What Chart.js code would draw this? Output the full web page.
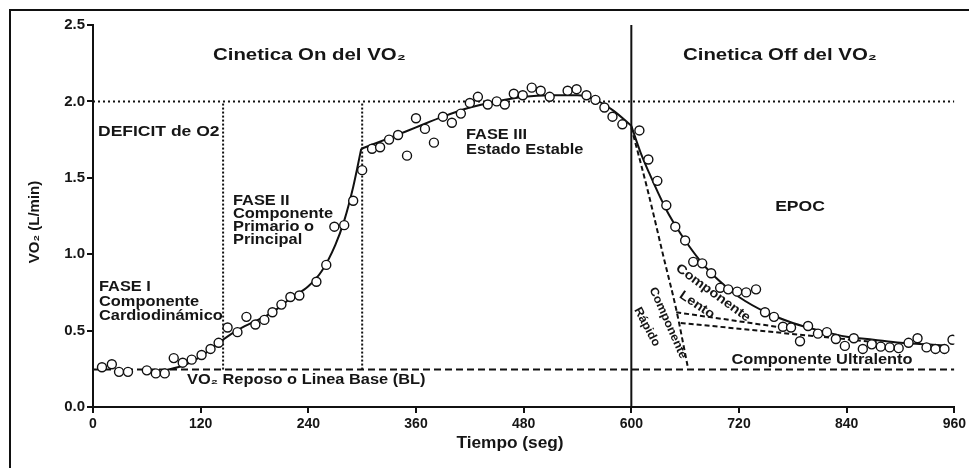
<!DOCTYPE html>
<html lang="es">
<head>
<meta charset="UTF-8">
<title>Cinética del VO2</title>
<script src="https://cdn.jsdelivr.net/npm/chart.js"></script>
<style>
    body { margin: 0; background: #fff; }
    #marco { position: absolute; left: 9px; top: 9px; width: 980px; height: 480px; border-top: 2px solid #111; border-left: 2px solid #111; }
    #graficoVO2 { position: absolute; left: 0; top: 0; }
</style>
</head>
<body>
<div id="marco"></div>
<canvas id="graficoVO2" width="969" height="468"></canvas>
<script>
    // puntos medidos (seg, L/min)
    const tiempoMedido = [10, 21, 29, 39, 60, 70, 80, 90, 100, 110, 121, 131, 140, 150, 161, 171, 181, 191, 200, 210, 220, 230, 249, 260, 269, 280, 290, 300,
        311, 320, 330, 340, 350, 360, 370, 380, 390, 400, 410, 420, 429, 440, 450, 459, 469, 479, 489, 499, 509, 529, 539, 550, 560, 570, 579, 590,
        609, 619, 629, 639, 649, 660, 669, 679, 689, 699, 708, 718, 728, 739, 749, 759, 769, 778, 788, 797, 808, 818, 828, 838, 848, 858, 868, 878,
        888, 898, 909, 919, 929, 939, 949, 958]
    const vo2Medido = [0.26, 0.28, 0.23, 0.23, 0.24, 0.22, 0.22, 0.32, 0.29, 0.31, 0.34, 0.38, 0.42, 0.52, 0.49, 0.59, 0.54, 0.57, 0.62, 0.67, 0.72, 0.73, 0.82, 0.93, 1.18, 1.19, 1.35, 1.55,
        1.69, 1.70, 1.75, 1.78, 1.645, 1.89, 1.82, 1.73, 1.90, 1.86, 1.92, 1.99, 2.03, 1.98, 2.00, 1.98, 2.05, 2.04, 2.09, 2.07, 2.03, 2.07, 2.08, 2.04, 2.01, 1.96, 1.90, 1.85,
        1.81, 1.62, 1.48, 1.32, 1.18, 1.09, 0.95, 0.94, 0.875, 0.78, 0.77, 0.755, 0.75, 0.77, 0.62, 0.59, 0.525, 0.52, 0.43, 0.53, 0.48, 0.49, 0.445, 0.40, 0.45, 0.38, 0.41, 0.395,
        0.39, 0.385, 0.42, 0.45, 0.39, 0.38, 0.38, 0.44]

    // curvas de ajuste
    const tiempoAjusteOn = [80, 100, 120, 140, 160, 180, 200, 220, 240, 255, 270, 280, 290, 299]
    const vo2AjusteOn = [0.24, 0.27, 0.33, 0.42, 0.50, 0.56, 0.62, 0.71, 0.79, 0.89, 1.06, 1.22, 1.44, 1.69]
    const tiempoAjusteEstable = [299, 330, 360, 390, 420, 450, 480, 510, 540, 560, 580, 600]
    const vo2AjusteEstable = [1.69, 1.76, 1.83, 1.90, 1.96, 2.00, 2.03, 2.04, 2.04, 2.01, 1.94, 1.84]
    const tiempoAjusteOff = [600, 610, 620, 630, 640, 650, 660, 675, 690, 705, 720, 750, 780, 810, 840, 870, 900, 930, 952]
    const vo2AjusteOff = [1.84, 1.67, 1.53, 1.40, 1.28, 1.18, 1.09, 0.97, 0.87, 0.79, 0.72, 0.62, 0.55, 0.50, 0.46, 0.44, 0.42, 0.41, 0.40]

    // componentes del EPOC
    const tiempoRapido = [600, 619, 636, 650, 663]
    const vo2Rapido = [1.83, 1.40, 0.98, 0.64, 0.26]
    const tiempoLento = [650, 780]
    const vo2Lento = [0.62, 0.51]
    const tiempoUltralento = [655, 880]
    const vo2Ultralento = [0.55, 0.42]

    const lineaBase = 0.245
    const nivelDeficit = 2.0
    const tiempoFaseII = 145
    const tiempoFaseIII = 300
    const tiempoFinEjercicio = 600

    const ticksTiempo = [0, 120, 240, 360, 480, 600, 720, 840, 960]
    const ticksVO2 = [0, 0.5, 1.0, 1.5, 2.0, 2.5]

    function puntos(xs, ys) {
        return xs.map((x, i) => ({ x: x, y: ys[i] }))
    }

    function linea(data, dash, ancho, curva) {
        return {
            data: data,
            showLine: true,
            borderColor: '#111',
            borderWidth: ancho,
            borderDash: dash,
            pointRadius: 0,
            cubicInterpolationMode: curva ? 'monotone' : 'default',
            tension: 0,
            fill: false
        }
    }

    const fuente = "'Liberation Sans', Arial, sans-serif"

    // el texto de la figura original esta algo ensanchado
    function texto(ctx, str, x, y, size, align, angulo, ancho) {
        ctx.save()
        ctx.translate(x, y)
        if (angulo) ctx.rotate(angulo * Math.PI / 180)
        ctx.scale(ancho || 1.17, 1)
        ctx.font = `bold ${size}px ${fuente}`
        ctx.fillStyle = '#151515'
        ctx.textAlign = align || 'left'
        ctx.textBaseline = 'middle'
        ctx.fillText(str, 0, 0)
        ctx.restore()
    }

    const anotaciones = {
        id: 'anotaciones',
        afterDraw(chart) {
            const ctx = chart.ctx
            texto(ctx, 'Cinetica On del VO₂', 213, 55, 17, 'left', 0, 1.2)
            texto(ctx, 'Cinetica Off del VO₂', 683, 55, 17, 'left', 0, 1.2)
            texto(ctx, 'DEFICIT de O2', 98, 132, 14, 'left', 0, 1.25)
            texto(ctx, 'FASE III', 466, 135, 14)
            texto(ctx, 'Estado Estable', 466, 150, 14)
            texto(ctx, 'FASE II', 233, 201, 14)
            texto(ctx, 'Componente', 233, 214, 14)
            texto(ctx, 'Primario o', 233, 227, 14)
            texto(ctx, 'Principal', 233, 240, 14)
            texto(ctx, 'FASE I', 99, 287, 14)
            texto(ctx, 'Componente', 99, 302, 14)
            texto(ctx, 'Cardiodinámico', 99, 316, 14)
            texto(ctx, 'VO₂ Reposo o Linea Base (BL)', 187, 380, 14)
            texto(ctx, 'EPOC', 800, 207, 15, 'center')
            texto(ctx, 'Componente Ultralento', 822, 360, 14, 'center')
            texto(ctx, 'Componente', 713, 293, 13, 'center', 36, 1.12)
            texto(ctx, 'Lento', 697, 305, 13, 'center', 34, 1.12)
            texto(ctx, 'Componente', 668, 323, 12, 'center', 66, 1.05)
            texto(ctx, 'Rápido', 647, 327, 12, 'center', 62, 1.05)
            // titulos de ejes
            texto(ctx, 'VO₂ (L/min)', 35, 222, 15, 'center', -90, 1.0)
            texto(ctx, 'Tiempo (seg)', 510, 444, 16, 'center', 0, 1.08)
        }
    }

    const datasets = [
        {
            data: puntos(tiempoMedido, vo2Medido),
            pointStyle: 'circle',
            pointRadius: 4.5,
            pointBorderWidth: 1.4,
            pointBorderColor: '#111',
            pointBackgroundColor: '#fff',
            showLine: false
        },
        linea(puntos(tiempoAjusteOn, vo2AjusteOn), [], 2, true),
        linea(puntos(tiempoAjusteEstable, vo2AjusteEstable), [], 2, true),
        linea(puntos(tiempoAjusteOff, vo2AjusteOff), [], 2, true),
        linea(puntos(tiempoRapido, vo2Rapido), [5, 3], 2, true),
        linea(puntos(tiempoLento, vo2Lento), [5, 3], 2, false),
        linea(puntos(tiempoUltralento, vo2Ultralento), [5, 3], 2, false),
        linea([{ x: 0, y: lineaBase }, { x: 960, y: lineaBase }], [7, 4], 2, false),
        linea([{ x: 0, y: nivelDeficit }, { x: 960, y: nivelDeficit }], [2, 3], 2, false),
        linea([{ x: tiempoFaseII, y: lineaBase }, { x: tiempoFaseII, y: nivelDeficit }], [2, 2], 2, false),
        linea([{ x: tiempoFaseIII, y: lineaBase }, { x: tiempoFaseIII, y: nivelDeficit }], [2, 2], 2, false),
        linea([{ x: tiempoFinEjercicio, y: 0 }, { x: tiempoFinEjercicio, y: 2.5 }], [], 2, false)
    ]

    const grafico = new Chart(document.getElementById('graficoVO2'), {
        type: 'scatter',
        data: { datasets: datasets },
        options: {
            responsive: false,
            animation: false,
            devicePixelRatio: 1,
            layout: { padding: { top: 25, right: 12, left: 0, bottom: 0 } },
            plugins: {
                legend: { display: false },
                tooltip: { enabled: false }
            },
            scales: {
                x: {
                    type: 'linear',
                    min: 0,
                    max: 960,
                    afterBuildTicks(scale) { scale.ticks = ticksTiempo.map(v => ({ value: v })) },
                    afterFit(scale) { scale.height = 61 },
                    ticks: {
                        color: '#151515',
                        padding: 3,
                        maxRotation: 0,
                        font: { family: "'Liberation Sans Narrow', 'Liberation Sans', Arial", weight: 'bold', size: 14 }
                    },
                    grid: { drawOnChartArea: false, drawTicks: true, tickLength: 6, color: '#111', lineWidth: 2 },
                    border: { display: true, color: '#111', width: 2 }
                },
                y: {
                    min: 0,
                    max: 2.5,
                    afterBuildTicks(scale) { scale.ticks = ticksVO2.map(v => ({ value: v })) },
                    afterFit(scale) { scale.width = 93 },
                    ticks: {
                        color: '#151515',
                        padding: 2,
                        callback: v => v.toFixed(1),
                        font: { family: fuente, weight: 'bold', size: 15 }
                    },
                    grid: { drawOnChartArea: false, drawTicks: true, tickLength: 6, color: '#111', lineWidth: 2 },
                    border: { display: true, color: '#111', width: 2 }
                }
            }
        },
        plugins: [anotaciones]
    })
</script>
</body>
</html>
